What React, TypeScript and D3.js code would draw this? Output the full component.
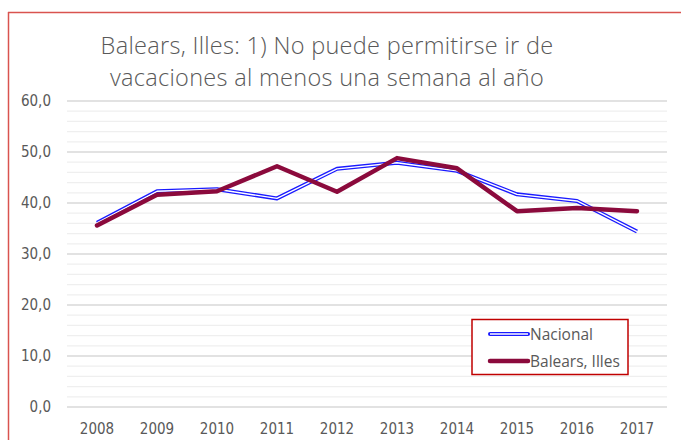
import React from "react";
import * as d3 from "d3";

const years = ["2008","2009","2010","2011","2012","2013","2014","2015","2016","2017"];
const nacional = [36.1, 42.3, 42.7, 40.9, 46.7, 47.9, 46.3, 41.7, 40.4, 34.4];
const balears = [35.6, 41.6, 42.3, 47.2, 42.2, 48.8, 46.8, 38.4, 39.0, 38.4];
const yTicks = [0, 10, 20, 30, 40, 50, 60];
const titleLines = ["Balears, Illes: 1) No puede permitirse ir de", "vacaciones al menos una semana al año"];
const legendLabels = ["Nacional", "Balears, Illes"];

const W = 681, H = 440;
const plotLeft = 67, plotRight = 667, plotTop = 101, plotBottom = 407;

export default function App() {
  const x = d3.scaleBand<string>().domain(years).range([plotLeft, plotRight]);
  const y = d3.scaleLinear().domain([0, 60]).range([plotBottom, plotTop]);
  const minor = d3.range(0, 61, 2).filter((v) => v % 10 !== 0);
  const cx = (i: number) => (x(years[i]) as number) + x.bandwidth() / 2;
  const line = d3.line<number>().x((_, i) => cx(i)).y((d) => y(d));
  const font = "'Liberation Sans Narrow', 'DejaVu Sans Condensed', sans-serif";
  return (
    <svg width={W} height={H} style={{ position: "absolute", left: 0, top: 0, background: "#fff" }}>
      <rect x={0} y={0} width={W} height={H} fill="#fff" />
      <line x1={8.5} x2={8.5} y1={12} y2={H} stroke="#d9534f" strokeWidth={1.5} />
      <line x1={8} x2={W} y1={12.5} y2={12.5} stroke="#d9534f" strokeWidth={1.5} />
      {titleLines.map((t, i) => (
        <text key={i} x={327} y={54 + i * 32} textAnchor="middle" fontFamily="'Open Sans', sans-serif" fontWeight={300} fontSize={23.5} letterSpacing={0.3} fill="#595959">{t}</text>
      ))}
      {minor.map((v) => (
        <line key={"m" + v} x1={plotLeft} x2={plotRight} y1={y(v)} y2={y(v)} stroke="#efefef" strokeWidth={1.2} />
      ))}
      {yTicks.map((v) => (
        <g key={v}>
          <line x1={plotLeft} x2={plotRight} y1={y(v)} y2={y(v)} stroke="#d9d9d9" strokeWidth={1.3} />
          <text x={51} y={y(v) + 5} textAnchor="end" fontFamily={font} fontSize={15} fill="#595959">{d3.format(".1f")(v).replace(".", ",")}</text>
        </g>
      ))}
      {years.map((yr, i) => (
        <text key={yr} x={cx(i)} y={434} textAnchor="middle" fontFamily={font} fontSize={15} fill="#595959">{yr}</text>
      ))}
      <path d={line(nacional) || ""} fill="none" stroke="#1a1aff" strokeWidth={4} strokeLinejoin="round" />
      <path d={line(nacional) || ""} fill="none" stroke="#fff" strokeWidth={1.4} strokeLinejoin="round" />
      <path d={line(balears) || ""} fill="none" stroke="#8b0a3c" strokeWidth={4.5} strokeLinejoin="round" strokeLinecap="round" />
      <rect x={472} y={319.5} width={156} height={55} fill="#fff" stroke="#c00000" strokeWidth={1.5} />
      <line x1={490} x2={528} y1={334} y2={334} stroke="#1a1aff" strokeWidth={4} strokeLinecap="round" />
      <line x1={490} x2={528} y1={334} y2={334} stroke="#fff" strokeWidth={1.4} />
      <line x1={490} x2={528} y1={361} y2={361} stroke="#8b0a3c" strokeWidth={4.5} strokeLinecap="round" />
      {legendLabels.map((l, i) => (
        <text key={l} x={530} y={339.5 + i * 27} fontFamily="'Open Sans', sans-serif" fontSize={15.5} fill="#595959">{l}</text>
      ))}
    </svg>
  );
}
